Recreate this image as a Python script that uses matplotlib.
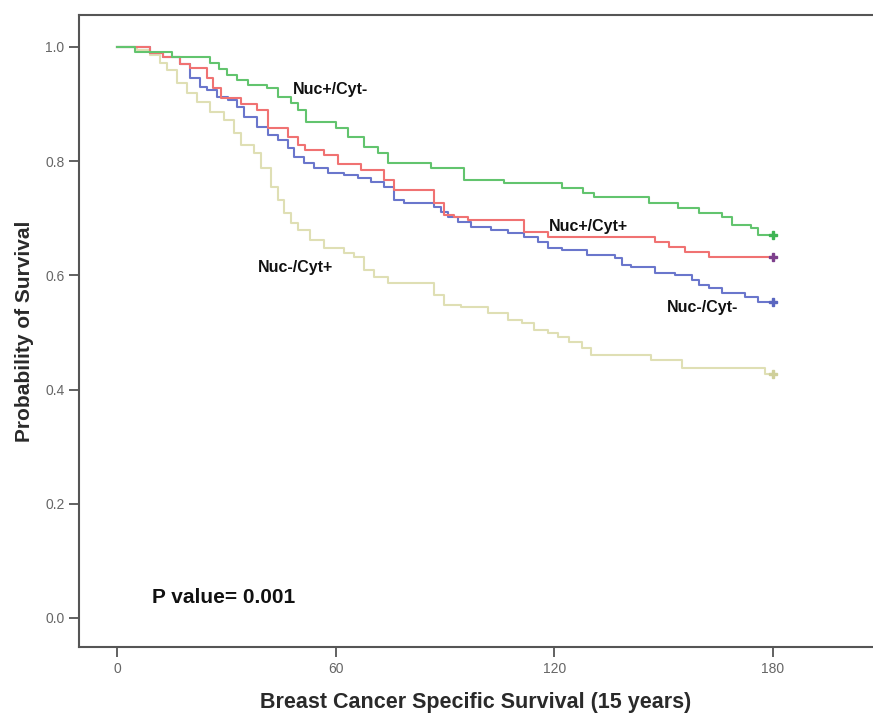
import matplotlib
matplotlib.use("Agg")
import matplotlib.pyplot as plt

# Kaplan-Meier step curves (time in months, survival)
nuc_pos_cyt_neg_t = [0, 5, 15, 25.5, 28, 30, 33, 35.8, 41, 44, 47.6, 49.5, 51.7, 60, 63.3,
                     67.7, 71.5, 74.3, 86.2, 95.2, 106.3, 122, 128, 131, 145.9, 154,
                     159.6, 166, 168.7, 174, 176, 180]
nuc_pos_cyt_neg_s = [1.0, 0.991, 0.982, 0.972, 0.962, 0.951, 0.942, 0.933, 0.928, 0.913,
                     0.902, 0.89, 0.869, 0.858, 0.843, 0.825, 0.814, 0.797, 0.788, 0.767,
                     0.762, 0.753, 0.744, 0.737, 0.727, 0.718, 0.709, 0.702, 0.688, 0.683,
                     0.671, 0.671]

nuc_pos_cyt_pos_t = [0, 9, 12.7, 17.3, 20, 24.7, 26.4, 28.4, 33.9, 38.5, 41.3, 46.8, 49.5,
                     51.5, 56.7, 60.5, 66.9, 73.3, 76, 87, 89.7, 92.5, 96.3, 111.8, 118.3,
                     147.6, 151.4, 155.8, 162.4, 180]
nuc_pos_cyt_pos_s = [1.0, 0.99, 0.982, 0.97, 0.963, 0.946, 0.928, 0.91, 0.90, 0.89, 0.858,
                     0.843, 0.828, 0.82, 0.811, 0.795, 0.785, 0.767, 0.75, 0.727, 0.706,
                     0.703, 0.697, 0.676, 0.667, 0.659, 0.65, 0.641, 0.632, 0.632]

nuc_neg_cyt_neg_t = [0, 9, 12.7, 17.3, 20, 22.8, 24.7, 27.5, 30.3, 33, 34.8, 38.5, 41.3, 44,
                     46.8, 48.4, 51.3, 54, 57.8, 62.2, 66, 69.6, 73.3, 76, 78.8, 87, 89,
                     90.8, 93.6, 97.2, 102.7, 107.3, 111.8, 115.6, 118.3, 122, 129, 136.6,
                     138.5, 141, 147.6, 153, 157.7, 159.6, 162.4, 166, 172.3, 176, 180]
nuc_neg_cyt_neg_s = [1.0, 0.99, 0.982, 0.97, 0.946, 0.93, 0.925, 0.913, 0.907, 0.895, 0.877,
                     0.86, 0.846, 0.837, 0.823, 0.807, 0.797, 0.788, 0.779, 0.776, 0.77,
                     0.764, 0.755, 0.732, 0.727, 0.72, 0.711, 0.703, 0.694, 0.685, 0.68,
                     0.674, 0.667, 0.659, 0.648, 0.644, 0.636, 0.63, 0.618, 0.615, 0.604,
                     0.601, 0.592, 0.583, 0.578, 0.569, 0.562, 0.553, 0.553]

nuc_neg_cyt_pos_t = [0, 5.5, 9, 11.8, 13.6, 16.5, 19.2, 22, 25.6, 29.2, 32, 33.9, 37.5, 39.4,
                     42.1, 44, 45.8, 47.6, 49.5, 53, 56.8, 62.3, 65, 67.8, 70.6, 74.3, 87,
                     89.8, 94.4, 101.8, 107.3, 111, 114.5, 118.3, 121, 124, 127.5, 130,
                     146.5, 155, 177.8, 180]
nuc_neg_cyt_pos_s = [1.0, 0.995, 0.986, 0.972, 0.96, 0.937, 0.919, 0.904, 0.886, 0.872,
                     0.849, 0.828, 0.814, 0.788, 0.755, 0.732, 0.709, 0.692, 0.68, 0.662,
                     0.648, 0.639, 0.632, 0.609, 0.597, 0.587, 0.566, 0.548, 0.545, 0.534,
                     0.522, 0.517, 0.504, 0.499, 0.492, 0.483, 0.472, 0.46, 0.452, 0.438,
                     0.427, 0.427]

x_ticks = [0, 60, 120, 180]
y_ticks = [0.0, 0.2, 0.4, 0.6, 0.8, 1.0]

plt.rcParams["font.family"] = ["Liberation Sans", "DejaVu Sans"]

fig = plt.figure(figsize=(8.73, 7.15), dpi=100)
ax = fig.add_axes([79 / 873, 68 / 715, 794 / 873, 632 / 715])

curves = [
    (nuc_neg_cyt_pos_t, nuc_neg_cyt_pos_s, "#dfdfb4", "#cfcf9a"),
    (nuc_neg_cyt_neg_t, nuc_neg_cyt_neg_s, "#6a76cc", "#5a66c0"),
    (nuc_pos_cyt_pos_t, nuc_pos_cyt_pos_s, "#f07272", "#7d3f8c"),
    (nuc_pos_cyt_neg_t, nuc_pos_cyt_neg_s, "#62c46e", "#3fb454"),
]
for t, s, col, mcol in curves:
    ax.step(t, s, where="post", color=col, lw=1.5)
    ax.plot(t[-1], s[-1], marker="P", ms=6, color=mcol, mec=mcol)

ax.set_xlim(-10.5, 207.5)
ax.set_ylim(-0.051, 1.056)
ax.set_xticks(x_ticks)
ax.set_xticklabels([str(v) for v in x_ticks])
ax.set_yticks(y_ticks)
ax.set_yticklabels([f"{v:.1f}" for v in y_ticks])

ax.spines["right"].set_visible(False)
for side in ["left", "bottom", "top"]:
    ax.spines[side].set_color("#555555")
    ax.spines[side].set_linewidth(1.5)
ax.tick_params(axis="both", direction="out", length=7, width=1.3, color="#555555",
               labelcolor="#666666", labelsize=10)

lab = dict(fontweight="bold", fontsize=11.5, color="#111111")
ax.text(48.2, 0.925, "Nuc+/Cyt-", va="center", **lab)
ax.text(118.6, 0.685, "Nuc+/Cyt+", va="center", **lab)
ax.text(38.5, 0.613, "Nuc-/Cyt+", va="center", **lab)
ax.text(150.8, 0.543, "Nuc-/Cyt-", va="center", **lab)
ax.text(9.6, 0.035, "P value= 0.001", va="center", fontweight="bold", fontsize=15,
        color="#111111")

ax.set_xlabel("Breast Cancer Specific Survival (15 years)", fontweight="bold",
              fontsize=15.5, color="#2a2a2a", labelpad=12)
ax.set_ylabel("Probability of Survival", fontweight="bold", fontsize=15,
              color="#2a2a2a", labelpad=8)

fig.savefig("out.png", dpi=100)
